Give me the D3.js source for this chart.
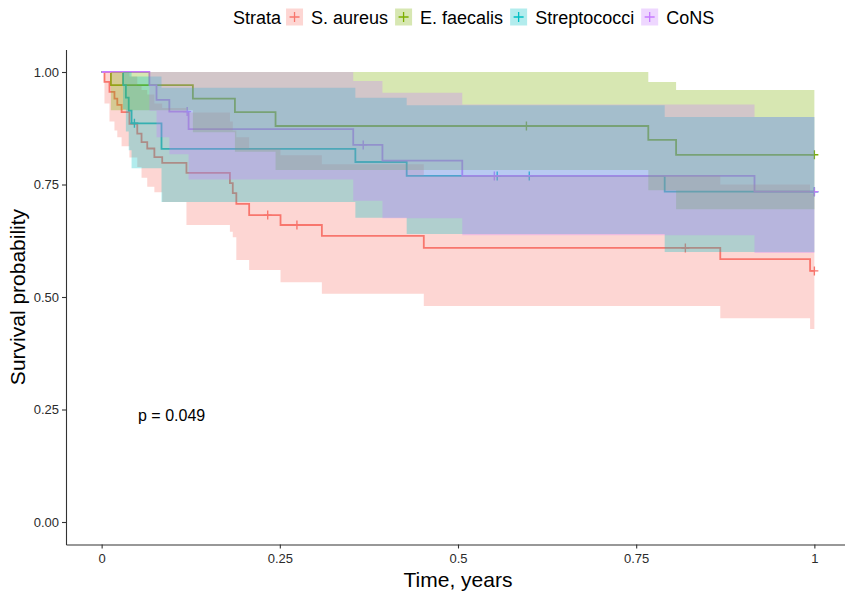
<!DOCTYPE html>
<html lang="en">
<head>
<meta charset="utf-8">
<script src="https://d3js.org/d3.v7.min.js"></script>
<title>Survival by strata</title>
<style>
  body { margin: 0; background: #fff; }
  svg text { font-family: "Liberation Sans", Arial, sans-serif; }
  .axis .tick text { font-size: 13px; fill: #2b2b2b; }
  .axis path, .axis line { stroke: #333; stroke-width: 1.1; }
</style>
</head>
<body>
<svg id="chart" width="845" height="593"></svg>
<script>
const strata = ["S. aureus", "E. faecalis", "Streptococci", "CoNS"];
const tickX = [0, 0.25, 0.5, 0.75, 1];
const tickY = [0, 0.25, 0.5, 0.75, 1];
const pValue = "p = 0.049";

// S. aureus
const aureusTime   = [0, 0.004, 0.011, 0.018, 0.022, 0.028, 0.039, 0.050, 0.056, 0.064, 0.074, 0.085, 0.119, 0.180, 0.184, 0.189, 0.207, 0.251, 0.309, 0.452, 0.868, 0.994];
const aureusSurv   = [1, 0.978, 0.956, 0.941, 0.927, 0.911, 0.885, 0.863, 0.844, 0.830, 0.811, 0.798, 0.776, 0.753, 0.731, 0.707, 0.682, 0.660, 0.636, 0.609, 0.584, 0.558];
const aureusLower  = [1, 0.930, 0.890, 0.870, 0.855, 0.835, 0.810, 0.789, 0.765, 0.745, 0.733, 0.711, 0.660, 0.645, 0.633, 0.582, 0.560, 0.533, 0.507, 0.480, 0.453, 0.429];
const aureusUpper  = [1, 1, 1, 1, 1, 1, 0.990, 0.970, 0.960, 0.950, 0.930, 0.920, 0.910, 0.890, 0.870, 0.855, 0.830, 0.815, 0.795, 0.770, 0.750, 0.730];
const aureusCensor = [0.233, 0.274, 0.819, 1.0];

// E. faecalis
const faecalisTime   = [0, 0.013, 0.128, 0.187, 0.244, 0.767, 0.806];
const faecalisSurv   = [1, 0.971, 0.941, 0.911, 0.880, 0.849, 0.816];
const faecalisLower  = [1, 0.915, 0.866, 0.823, 0.782, 0.737, 0.695];
const faecalisUpper  = [1, 1, 1, 1, 1, 0.978, 0.960];
const faecalisCensor = [0.596, 1.0];

// Streptococci
const streptoTime   = [0, 0.030, 0.034, 0.038, 0.042, 0.084, 0.356, 0.428, 0.790];
const streptoSurv   = [1, 0.971, 0.943, 0.914, 0.886, 0.829, 0.800, 0.769, 0.734];
const streptoLower  = [1, 0.917, 0.868, 0.826, 0.786, 0.711, 0.676, 0.640, 0.600];
const streptoUpper  = [1, 1, 1, 1, 0.990, 0.965, 0.943, 0.926, 0.900];
const streptoCensor = [0.046, 0.555, 0.600, 1.0];

// CoNS
const consTime   = [0, 0.067, 0.077, 0.095, 0.122, 0.353, 0.394, 0.506, 0.916];
const consSurv   = [1, 0.971, 0.938, 0.912, 0.873, 0.838, 0.803, 0.769, 0.734];
const consLower  = [1, 0.914, 0.855, 0.817, 0.761, 0.714, 0.675, 0.637, 0.598];
const consUpper  = [1, 1, 1, 1, 1, 0.980, 0.954, 0.928, 0.900];
const consCensor = [0.120, 0.367, 0.551, 1.0];

const colors = ["#F8766D", "#7CAE00", "#00BFC4", "#C77CFF"];
const endTime = 1.0;

const groups = [
    { time: aureusTime, surv: aureusSurv, lower: aureusLower, upper: aureusUpper, censor: aureusCensor },
    { time: faecalisTime, surv: faecalisSurv, lower: faecalisLower, upper: faecalisUpper, censor: faecalisCensor },
    { time: streptoTime, surv: streptoSurv, lower: streptoLower, upper: streptoUpper, censor: streptoCensor },
    { time: consTime, surv: consSurv, lower: consLower, upper: consUpper, censor: consCensor }
].map((g, i) => {
    const pts = g.time.map((t, j) => ({ t: t, s: g.surv[j], lo: g.lower[j], hi: g.upper[j] }));
    const last = pts[pts.length - 1];
    pts.push({ t: endTime, s: last.s, lo: last.lo, hi: last.hi });
    return { name: strata[i], color: colors[i], pts: pts, censor: g.censor, time: g.time, surv: g.surv };
});

const svg = d3.select("#chart");

const x = d3.scaleLinear().domain([-0.05, 1.05]).range([66, 850]);
const y = d3.scaleLinear().domain([-0.05, 1.05]).range([544.5, 49.5]);

const line = d3.line()
    .curve(d3.curveStepAfter)
    .x(d => x(d.t))
    .y(d => y(d.s));

const area = d3.area()
    .curve(d3.curveStepAfter)
    .x(d => x(d.t))
    .y0(d => y(d.lo))
    .y1(d => y(d.hi));

// survival at time t (step function)
function survAt(g, t) {
    const i = d3.bisectRight(g.time, t) - 1;
    return g.surv[Math.max(i, 0)];
}

const plot = svg.append("g");

// lines first
groups.forEach(g => {
    plot.append("path")
        .datum(g.pts)
        .attr("d", line)
        .attr("fill", "none")
        .attr("stroke", g.color)
        .attr("stroke-width", 1.8);

    plot.selectAll(null)
        .data(g.censor)
        .enter().append("path")
        .attr("transform", d => `translate(${x(d)},${y(survAt(g, d))})`)
        .attr("d", "M-4,0H4M0,-4.5V4.5")
        .attr("stroke", g.color)
        .attr("stroke-width", 1.4);
});

// confidence ribbons on top
groups.forEach(g => {
    plot.append("path")
        .datum(g.pts)
        .attr("d", area)
        .attr("fill", g.color)
        .attr("fill-opacity", 0.3)
        .attr("stroke", "none");
});

// axes
svg.append("g")
    .attr("class", "axis")
    .attr("transform", "translate(0,544.5)")
    .call(d3.axisBottom(x).tickValues(tickX).tickSize(4).tickSizeOuter(0).tickPadding(5)
        .tickFormat(d => String(d)));

svg.append("g")
    .attr("class", "axis")
    .attr("transform", "translate(66,0)")
    .call(d3.axisLeft(y).tickValues(tickY).tickSize(4).tickSizeOuter(0).tickPadding(3)
        .tickFormat(d3.format(".2f")));

svg.selectAll(".axis .domain").attr("stroke", "#333");

// axis titles
svg.append("text")
    .attr("x", 458)
    .attr("y", 587)
    .attr("text-anchor", "middle")
    .style("font-size", "21px")
    .text("Time, years");

svg.append("text")
    .attr("transform", "translate(25,297) rotate(-90)")
    .attr("text-anchor", "middle")
    .style("font-size", "21px")
    .text("Survival probability");

// p value
svg.append("text")
    .attr("x", 138)
    .attr("y", 421)
    .style("font-size", "16px")
    .text(pValue);

// legend
const legend = svg.append("g");
let lx = 233;
const ly = 17;
const title = legend.append("text")
    .attr("x", lx)
    .attr("y", ly + 6.5)
    .style("font-size", "18px")
    .text("Strata");
lx += title.node().getComputedTextLength() + 5;

groups.forEach(g => {
    legend.append("rect")
        .attr("x", lx)
        .attr("y", ly - 8.5)
        .attr("width", 17)
        .attr("height", 17)
        .attr("fill", g.color)
        .attr("fill-opacity", 0.3);
    legend.append("path")
        .attr("transform", `translate(${lx + 8.5},${ly})`)
        .attr("d", "M-5,0H5M0,-5V5")
        .attr("stroke", g.color)
        .attr("stroke-width", 1.3);
    lx += 17 + 8;
    const t = legend.append("text")
        .attr("x", lx)
        .attr("y", ly + 6.5)
        .style("font-size", "18px")
        .text(g.name);
    lx += t.node().getComputedTextLength() + 7;
});
</script>
</body>
</html>
